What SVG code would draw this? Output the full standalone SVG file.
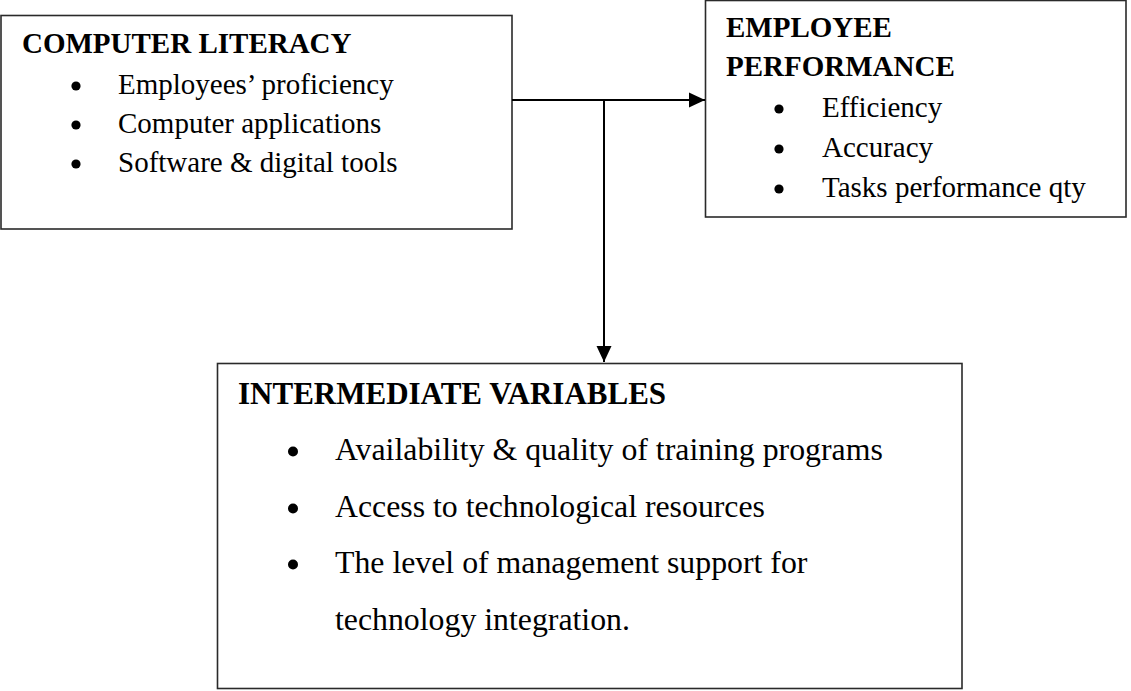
<svg xmlns="http://www.w3.org/2000/svg" width="1131" height="691" viewBox="0 0 1131 691">
<style>
.box{fill:#fff;stroke:#2a2a2a;stroke-width:1.6}
.t{font-family:"Liberation Serif","Times New Roman",serif;fill:#000}
.h{font-weight:bold;font-size:29px}
.b{font-size:29px}
.h3{font-weight:bold;font-size:31px}
.b3{font-size:31.8px}
.dot{fill:#000}
.conn{stroke:#000;stroke-width:2;fill:none}
</style>
<defs>
<marker id="arr" markerWidth="16" markerHeight="16" refX="16" refY="8" orient="auto" markerUnits="userSpaceOnUse">
<path d="M0,0.5 L16,8 L0,15.5 Z" fill="#000"/>
</marker>
</defs>
<rect width="1131" height="691" fill="#fff"/>
<g id="computer-literacy">
<rect class="box" x="1" y="15.5" width="511" height="213.5"/>
<text class="t h" x="22" y="53">COMPUTER LITERACY</text>
<circle class="dot" cx="76" cy="86" r="4.6"/>
<text class="t b" x="118" y="94">Employees’ proficiency</text>
<circle class="dot" cx="76" cy="125" r="4.6"/>
<text class="t b" x="118" y="133">Computer applications</text>
<circle class="dot" cx="76" cy="164" r="4.6"/>
<text class="t b" x="118" y="172">Software &amp; digital tools</text>
</g>
<g id="employee-performance">
<rect class="box" x="705.5" y="0.5" width="420.5" height="216.5"/>
<text class="t h" x="726" y="37">EMPLOYEE</text>
<text class="t h" x="726" y="76">PERFORMANCE</text>
<circle class="dot" cx="779" cy="109" r="4.6"/>
<text class="t b" x="822" y="117">Efficiency</text>
<circle class="dot" cx="779" cy="149" r="4.6"/>
<text class="t b" x="822" y="157">Accuracy</text>
<circle class="dot" cx="779" cy="189" r="4.6"/>
<text class="t b" x="822" y="197">Tasks performance qty</text>
</g>
<g id="intermediate-variables">
<rect class="box" x="217.5" y="363.5" width="744.5" height="325"/>
<text class="t h3" x="238" y="404">INTERMEDIATE VARIABLES</text>
<circle class="dot" cx="293" cy="451.5" r="5"/>
<text class="t b3" x="335" y="460">Availability &amp; quality of training programs</text>
<circle class="dot" cx="293" cy="508.5" r="5"/>
<text class="t b3" x="335" y="517">Access to technological resources</text>
<circle class="dot" cx="293" cy="564.5" r="5"/>
<text class="t b3" x="335" y="573">The level of management support for</text>
<text class="t b3" x="335" y="630">technology integration.</text>
</g>
<g id="connectors">
<line class="conn" x1="512" y1="100" x2="705" y2="100" marker-end="url(#arr)"/>
<line class="conn" x1="604" y1="100" x2="604" y2="362" marker-end="url(#arr)"/>
</g>
</svg>
